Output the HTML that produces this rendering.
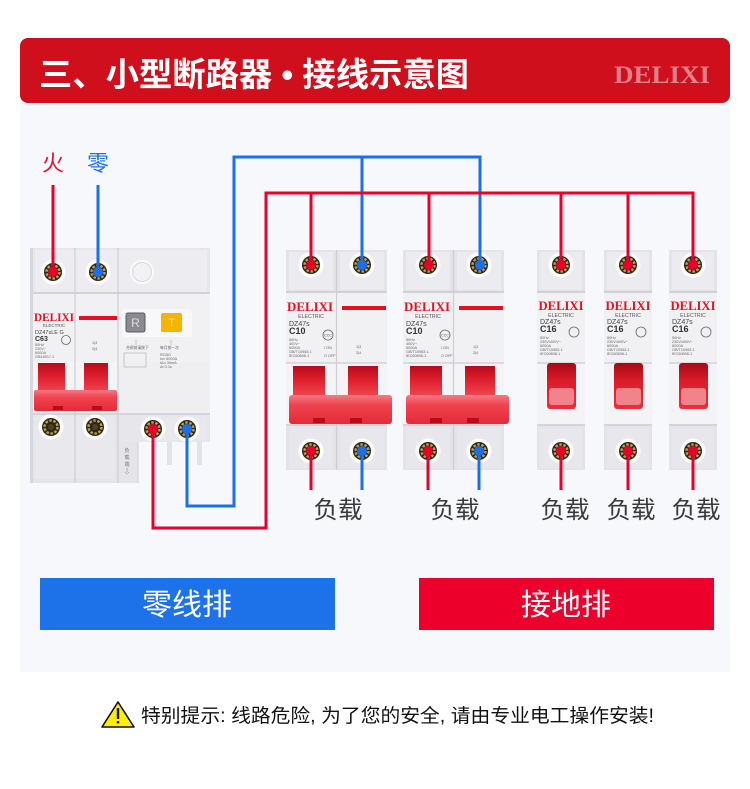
<!DOCTYPE html>
<html><head><meta charset="utf-8">
<style>
html,body{margin:0;padding:0;background:#fff;width:750px;height:789px;overflow:hidden;}
svg{display:block;}
text{font-family:"Liberation Sans","Noto Sans CJK SC",sans-serif;}
.lg{font-family:"Liberation Serif",serif;font-weight:bold;fill:#e0131f;}
.sm{fill:#666;font-size:3.8px;}
</style></head><body>
<svg width="750" height="789" viewBox="0 0 750 789" xmlns="http://www.w3.org/2000/svg">
<defs>
 <linearGradient id="hup" x1="0" y1="0" x2="0" y2="1">
  <stop offset="0" stop-color="#b80a1a"/><stop offset="0.45" stop-color="#e0202e"/><stop offset="1" stop-color="#f24a56"/>
 </linearGradient>
 <linearGradient id="hbar" x1="0" y1="0" x2="0" y2="1">
  <stop offset="0" stop-color="#f57a83"/><stop offset="0.35" stop-color="#f0434f"/><stop offset="1" stop-color="#e42a38"/>
 </linearGradient>
 <linearGradient id="h1" x1="0" y1="0" x2="0" y2="1">
  <stop offset="0" stop-color="#a80816"/><stop offset="0.4" stop-color="#dc1c2b"/><stop offset="1" stop-color="#ea2f3c"/>
 </linearGradient>
 <g id="term">
  <circle r="12.5" fill="#fdfdfd"/>
  <circle r="9" fill="#2e2719"/>
  <circle r="6.5" fill="none" stroke="#b8a052" stroke-width="2.4" stroke-dasharray="2.5 1.6"/>
  <circle r="3" fill="#4f4020"/>
 </g>
 <g id="pole">
  <rect x="0" y="0" width="50" height="220" fill="#e3e3e8"/>
  <rect x="3" y="2" width="44" height="38" fill="#ececf0"/>
  <rect x="0" y="41" width="50" height="2" fill="#d0d0d6"/>
  <rect x="0" y="43" width="50" height="69" fill="#f1f1f4"/>
  <rect x="0" y="112" width="50" height="62" fill="#f4f4f6"/>
  <rect x="0" y="112" width="50" height="2" fill="#dadadf"/>
  <rect x="0" y="174" width="50" height="2" fill="#d4d4da"/>
  <rect x="3" y="178" width="44" height="40" fill="#e8e8ec"/>
 </g>
</defs>

<!-- header -->
<rect x="20" y="38" width="710" height="65" rx="8" fill="#d00f1c"/>
<text x="39" y="86" font-size="33" font-weight="bold" fill="#fff" textLength="430" lengthAdjust="spacingAndGlyphs">三、小型断路器 • 接线示意图</text>
<text x="614" y="83" font-size="25" fill="#e2808a" style="font-family:'Liberation Serif',serif;font-weight:bold" textLength="96" lengthAdjust="spacingAndGlyphs">DELIXI</text>

<!-- panel -->
<rect x="20" y="103" width="710" height="569" fill="#f7f8fb"/>

<!-- 火 零 -->
<text x="53" y="171" font-size="22" fill="#e8112d" text-anchor="middle">火</text>
<text x="98" y="171" font-size="22" fill="#1c6fe6" text-anchor="middle">零</text>

<!-- ===== RCBO ===== -->
<rect x="32" y="248" width="178" height="194" fill="#e6e6eb"/>
<rect x="32" y="442" width="106" height="41" fill="#e4e4e9"/>
<rect x="35" y="250" width="172" height="42" fill="#ededf1"/>
<rect x="32" y="292" width="178" height="2" fill="#d2d2d8"/>
<rect x="32" y="294" width="178" height="68" fill="#f1f1f4"/>
<rect x="32" y="362" width="86" height="51" fill="#f4f4f6"/>
<rect x="118" y="362" width="92" height="51" fill="#efeff2"/>
<rect x="32" y="413" width="178" height="2" fill="#d4d4da"/>
<rect x="35" y="417" width="80" height="62" fill="#e9e9ed"/>
<rect x="141" y="417" width="66" height="23" fill="#e9e9ed"/>
<line x1="75" y1="248" x2="75" y2="483" stroke="#cfcfd5" stroke-width="1.2"/>
<line x1="118" y1="248" x2="118" y2="483" stroke="#cfcfd5" stroke-width="1.2"/>
<line x1="138" y1="442" x2="138" y2="483" stroke="#d0d0d6" stroke-width="1"/>
<rect x="167" y="442" width="5" height="23" fill="#e2e2e7"/>
<rect x="197" y="442" width="5" height="23" fill="#e2e2e7"/>
<rect x="30" y="248" width="3" height="235" fill="#d6d6dc"/>
<!-- RCBO top -->
<use href="#term" x="53" y="272"/>
<use href="#term" x="98" y="272"/>
<circle cx="142" cy="272" r="12" fill="#fcfcfc"/>
<circle cx="142" cy="272" r="9.5" fill="#f2f2f4" stroke="#d6d6da" stroke-width="1"/>
<!-- RCBO face -->
<text x="54" y="321" font-size="12" class="lg" text-anchor="middle" textLength="40" lengthAdjust="spacingAndGlyphs">DELIXI</text>
<text x="54" y="327" font-size="4.5" fill="#555" text-anchor="middle">ELECTRIC</text>
<text x="35" y="334" font-size="5.5" fill="#444">DZ47sLE G</text>
<text x="35" y="341" font-size="7" font-weight="bold" fill="#333">C63</text>
<circle cx="66" cy="340" r="4.5" fill="none" stroke="#666" stroke-width="0.8"/>
<text x="35" y="346" class="sm">50Hz</text>
<text x="35" y="350" class="sm">230V~</text>
<text x="35" y="354" class="sm">6000A</text>
<text x="35" y="358" class="sm">GB16917.1</text>
<rect x="79" y="316" width="38" height="4" fill="#e3101e"/>
<text x="92" y="344" class="sm">1|3</text>
<text x="92" y="350" class="sm">2|4</text>
<rect x="122" y="309" width="70" height="28" rx="3" fill="#f8f8fa"/>
<rect x="126" y="313" width="19" height="19" rx="2" fill="#8a8a90" stroke="#5a5a60" stroke-width="1"/>
<text x="135.5" y="327" font-size="12" fill="#ddd" text-anchor="middle">R</text>
<rect x="161" y="313" width="21" height="19" rx="2" fill="#f4b400"/>
<text x="171.5" y="327" font-size="12" fill="#fde08a" text-anchor="middle">T</text>
<text x="136" y="344" font-size="5" fill="#888" text-anchor="middle">⇧</text>
<text x="171" y="344" font-size="5" fill="#888" text-anchor="middle">⇧</text>
<text x="126" y="349" class="sm">合闸前请按下</text>
<text x="160" y="349" class="sm">每月按一次</text>
<rect x="124" y="353" width="22" height="14" fill="none" stroke="#999" stroke-width="0.5"/>
<text x="160" y="356" class="sm">RCBO</text>
<text x="160" y="360" class="sm">Inc 6000A</text>
<text x="160" y="364" class="sm">IΔn 30mA</text>
<text x="160" y="368" class="sm">Δt 0.1s</text>
<!-- RCBO handle -->
<rect x="38" y="363" width="27" height="31" fill="url(#hup)"/>
<rect x="84" y="363" width="24" height="31" fill="url(#hup)"/>
<rect x="34" y="390" width="83" height="21" rx="2" fill="url(#hbar)"/>
<rect x="53" y="406" width="10" height="4" fill="#b50d1b"/>
<rect x="92" y="406" width="10" height="4" fill="#b50d1b"/>
<!-- RCBO bottom -->
<use href="#term" x="51" y="427"/>
<use href="#term" x="95" y="427"/>
<use href="#term" x="153" y="429"/>
<use href="#term" x="187" y="429"/>
<text x="127" y="452" font-size="5" fill="#777" text-anchor="middle">负</text>
<text x="127" y="459" font-size="5" fill="#777" text-anchor="middle">载</text>
<text x="127" y="466" font-size="5" fill="#777" text-anchor="middle">端</text>
<text x="127" y="474" font-size="6" fill="#777" text-anchor="middle">⇩</text>

<!-- ===== 2-pole breaker A ===== -->
<use href="#pole" x="286" y="250"/>
<use href="#pole" x="337" y="250"/>
<line x1="336.5" y1="250" x2="336.5" y2="470" stroke="#cdcdd3" stroke-width="1.2"/>
<use href="#term" x="311" y="265"/>
<use href="#term" x="362" y="265"/>
<use href="#term" x="311" y="451"/>
<use href="#term" x="362" y="451"/>
<text x="310" y="311" font-size="13" class="lg" text-anchor="middle" textLength="46" lengthAdjust="spacingAndGlyphs">DELIXI</text>
<text x="311" y="318" font-size="5.2" fill="#555" text-anchor="middle">ELECTRIC</text>
<text x="289" y="326" font-size="7" fill="#444">DZ47s</text>
<text x="289" y="334" font-size="9" font-weight="bold" fill="#333">C10</text>
<circle cx="328" cy="335" r="5" fill="none" stroke="#666" stroke-width="0.8"/>
<text x="328" y="336.5" font-size="3.6" fill="#555" text-anchor="middle">CCC</text>
<text x="289" y="341" class="sm">50Hz</text>
<text x="289" y="345" class="sm">400V~</text>
<text x="289" y="349" class="sm">6000A</text>
<text x="289" y="353" class="sm">GB/T10963.1</text>
<text x="289" y="357" class="sm">IEC60898-1</text>
<text x="324" y="349" class="sm">I ON</text>
<text x="324" y="357" class="sm">O OFF</text>
<rect x="342" y="306" width="44" height="4" fill="#e3101e"/>
<text x="356" y="348" class="sm">1|3</text>
<text x="356" y="354" class="sm">2|4</text>
<rect x="293" y="366" width="32" height="32" fill="url(#hup)"/>
<rect x="348" y="366" width="30" height="32" fill="url(#hup)"/>
<rect x="289" y="395" width="103" height="29" rx="3" fill="url(#hbar)"/>
<rect x="313" y="418" width="12" height="5" fill="#b50d1b"/>
<rect x="350" y="418" width="12" height="5" fill="#b50d1b"/>

<!-- ===== 2-pole breaker B ===== -->
<use href="#pole" x="403" y="250"/>
<use href="#pole" x="454" y="250"/>
<line x1="453.5" y1="250" x2="453.5" y2="470" stroke="#cdcdd3" stroke-width="1.2"/>
<use href="#term" x="428" y="265"/>
<use href="#term" x="479" y="265"/>
<use href="#term" x="428" y="451"/>
<use href="#term" x="479" y="451"/>
<text x="427" y="311" font-size="13" class="lg" text-anchor="middle" textLength="46" lengthAdjust="spacingAndGlyphs">DELIXI</text>
<text x="428" y="318" font-size="5.2" fill="#555" text-anchor="middle">ELECTRIC</text>
<text x="406" y="326" font-size="7" fill="#444">DZ47s</text>
<text x="406" y="334" font-size="9" font-weight="bold" fill="#333">C10</text>
<circle cx="445" cy="335" r="5" fill="none" stroke="#666" stroke-width="0.8"/>
<text x="445" y="336.5" font-size="3.6" fill="#555" text-anchor="middle">CCC</text>
<text x="406" y="341" class="sm">50Hz</text>
<text x="406" y="345" class="sm">400V~</text>
<text x="406" y="349" class="sm">6000A</text>
<text x="406" y="353" class="sm">GB/T10963.1</text>
<text x="406" y="357" class="sm">IEC60898-1</text>
<text x="441" y="349" class="sm">I ON</text>
<text x="441" y="357" class="sm">O OFF</text>
<rect x="459" y="306" width="44" height="4" fill="#e3101e"/>
<text x="473" y="348" class="sm">1|3</text>
<text x="473" y="354" class="sm">2|4</text>
<rect x="410" y="366" width="32" height="32" fill="url(#hup)"/>
<rect x="465" y="366" width="30" height="32" fill="url(#hup)"/>
<rect x="406" y="395" width="103" height="29" rx="3" fill="url(#hbar)"/>
<rect x="430" y="418" width="12" height="5" fill="#b50d1b"/>
<rect x="467" y="418" width="12" height="5" fill="#b50d1b"/>

<!-- ===== 1-pole breakers ===== -->
<g>
 <use href="#pole" transform="translate(537,250) scale(0.96,1)"/>
 <use href="#term" x="561" y="265"/><use href="#term" x="561" y="451"/>
 <text x="561" y="310" font-size="13" class="lg" text-anchor="middle" textLength="45" lengthAdjust="spacingAndGlyphs">DELIXI</text>
 <text x="561" y="317" font-size="5.2" fill="#555" text-anchor="middle">ELECTRIC</text>
 <text x="540" y="324" font-size="7" fill="#444">DZ47s</text>
 <text x="540" y="332" font-size="9" font-weight="bold" fill="#333">C16</text>
 <circle cx="574" cy="332" r="5" fill="none" stroke="#666" stroke-width="0.8"/>
 <text x="540" y="339" class="sm">50Hz</text>
 <text x="540" y="343" class="sm">230V/400V~</text>
 <text x="540" y="347" class="sm">6000A</text>
 <text x="540" y="351" class="sm">GB/T10963.1</text>
 <text x="540" y="355" class="sm">IEC60898-1</text>
 <rect x="547" y="363" width="29" height="46" rx="3" fill="url(#h1)"/>
 <rect x="549" y="388" width="25" height="17" rx="3" fill="#f3838b"/>
</g>
<g>
 <use href="#pole" transform="translate(604,250) scale(0.96,1)"/>
 <use href="#term" x="628" y="265"/><use href="#term" x="628" y="451"/>
 <text x="628" y="310" font-size="13" class="lg" text-anchor="middle" textLength="45" lengthAdjust="spacingAndGlyphs">DELIXI</text>
 <text x="628" y="317" font-size="5.2" fill="#555" text-anchor="middle">ELECTRIC</text>
 <text x="607" y="324" font-size="7" fill="#444">DZ47s</text>
 <text x="607" y="332" font-size="9" font-weight="bold" fill="#333">C16</text>
 <circle cx="641" cy="332" r="5" fill="none" stroke="#666" stroke-width="0.8"/>
 <text x="607" y="339" class="sm">50Hz</text>
 <text x="607" y="343" class="sm">230V/400V~</text>
 <text x="607" y="347" class="sm">6000A</text>
 <text x="607" y="351" class="sm">GB/T10963.1</text>
 <text x="607" y="355" class="sm">IEC60898-1</text>
 <rect x="614" y="363" width="29" height="46" rx="3" fill="url(#h1)"/>
 <rect x="616" y="388" width="25" height="17" rx="3" fill="#f3838b"/>
</g>
<g>
 <use href="#pole" transform="translate(669,250) scale(0.96,1)"/>
 <use href="#term" x="693" y="265"/><use href="#term" x="693" y="451"/>
 <text x="693" y="310" font-size="13" class="lg" text-anchor="middle" textLength="45" lengthAdjust="spacingAndGlyphs">DELIXI</text>
 <text x="693" y="317" font-size="5.2" fill="#555" text-anchor="middle">ELECTRIC</text>
 <text x="672" y="324" font-size="7" fill="#444">DZ47s</text>
 <text x="672" y="332" font-size="9" font-weight="bold" fill="#333">C16</text>
 <circle cx="706" cy="332" r="5" fill="none" stroke="#666" stroke-width="0.8"/>
 <text x="672" y="339" class="sm">50Hz</text>
 <text x="672" y="343" class="sm">230V/400V~</text>
 <text x="672" y="347" class="sm">6000A</text>
 <text x="672" y="351" class="sm">GB/T10963.1</text>
 <text x="672" y="355" class="sm">IEC60898-1</text>
 <rect x="679" y="363" width="29" height="46" rx="3" fill="url(#h1)"/>
 <rect x="681" y="388" width="25" height="17" rx="3" fill="#f3838b"/>
</g>

<!-- ===== wires ===== -->
<g fill="none" stroke-width="3" stroke-linejoin="miter">
 <path d="M53 185 V272" stroke="#e8002a"/>
 <path d="M98 185 V272" stroke="#1c6fe6"/>
 <path d="M187 429 V506 H234 V157 H480 V265 M362 157 V265" stroke="#1c6fe6"/>
 <path d="M153 429 V528 H266 V193 H693 V265 M311 193 V265 M429 193 V265 M561 193 V265 M628 193 V265" stroke="#e8002a"/>
 <path d="M311 451 V490 M428 451 V490 M561 451 V490 M628 451 V490 M693 451 V490" stroke="#e8002a"/>
 <path d="M362 451 V490 M479 451 V490" stroke="#1c6fe6"/>
</g>
<g fill="#e8002a">
 <circle cx="53" cy="272" r="5"/><circle cx="153" cy="429" r="5"/>
 <circle cx="311" cy="265" r="5"/><circle cx="429" cy="265" r="5"/><circle cx="561" cy="265" r="5"/><circle cx="628" cy="265" r="5"/><circle cx="693" cy="265" r="5"/>
 <circle cx="311" cy="451" r="5"/><circle cx="428" cy="451" r="5"/><circle cx="561" cy="451" r="5"/><circle cx="628" cy="451" r="5"/><circle cx="693" cy="451" r="5"/>
</g>
<g fill="#1c6fe6">
 <circle cx="98" cy="272" r="5"/><circle cx="187" cy="429" r="5"/>
 <circle cx="362" cy="265" r="5"/><circle cx="480" cy="265" r="5"/>
 <circle cx="362" cy="451" r="5"/><circle cx="479" cy="451" r="5"/>
</g>

<!-- 负载 labels -->
<g font-size="24" fill="#3a3a3a" text-anchor="middle">
 <text x="338" y="518" textLength="49" lengthAdjust="spacingAndGlyphs">负载</text>
 <text x="455" y="518" textLength="49" lengthAdjust="spacingAndGlyphs">负载</text>
 <text x="565" y="518" textLength="49" lengthAdjust="spacingAndGlyphs">负载</text>
 <text x="631" y="518" textLength="49" lengthAdjust="spacingAndGlyphs">负载</text>
 <text x="696" y="518" textLength="49" lengthAdjust="spacingAndGlyphs">负载</text>
</g>

<!-- bars -->
<rect x="40" y="578" width="295" height="52" fill="#1d72e9"/>
<text x="187" y="615" font-size="30" fill="#fff" text-anchor="middle">零线排</text>
<rect x="419" y="578" width="295" height="52" fill="#ec002b"/>
<text x="566" y="615" font-size="30" fill="#fff" text-anchor="middle">接地排</text>

<!-- warning -->
<polygon points="118,702 134,727 102,727" fill="#ffee00" stroke="#111" stroke-width="1.6" stroke-linejoin="round"/>
<rect x="116.8" y="708" width="2.4" height="11" fill="#111"/>
<rect x="116.8" y="721" width="2.4" height="2.4" fill="#111"/>
<text x="141" y="722" font-size="19" fill="#111" textLength="513" lengthAdjust="spacingAndGlyphs">特别提示: 线路危险, 为了您的安全, 请由专业电工操作安装!</text>
</svg>
</body></html>
